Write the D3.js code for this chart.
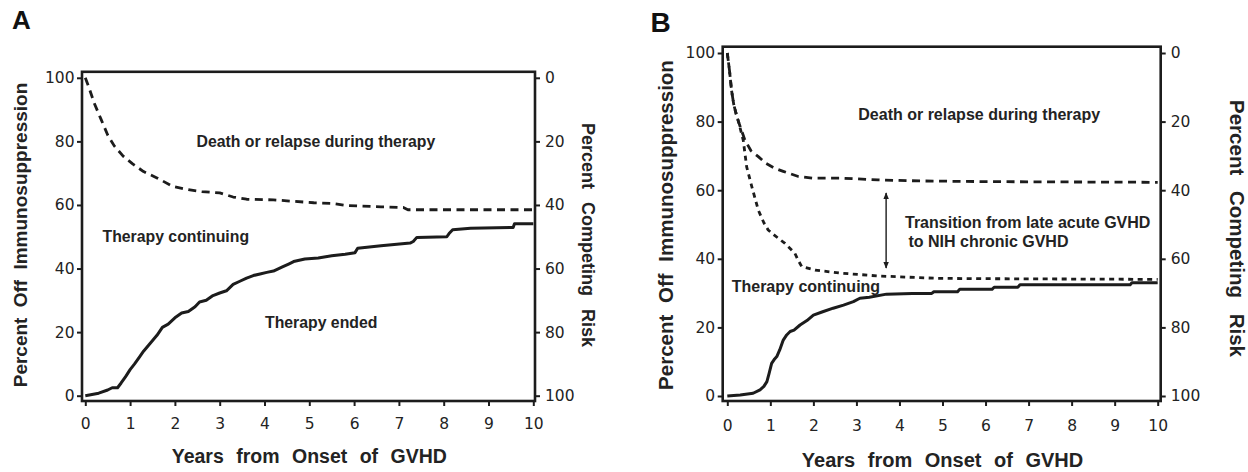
<!DOCTYPE html>
<html><head><meta charset="utf-8">
<script src="https://cdn.jsdelivr.net/npm/d3@7"></script>
<style>
html,body{margin:0;padding:0;background:#fff;}
svg{display:block;}
</style></head><body>
<svg id="chart" width="1248" height="472"></svg>
<script>
// ---------- shared axis content ----------
const yearTicks = [0,1,2,3,4,5,6,7,8,9,10];
const offTicks = [0,20,40,60,80,100];
const riskTicks = [0,20,40,60,80,100];
const xTitle = "Years from Onset of GVHD";
const leftTitle = "Percent Off Immunosuppression";
const rightTitle = "Percent Competing Risk";

// ---------- Panel A ----------
const aOffYears = [0,0.3,0.5,0.6,0.72,0.8,0.9,1.0,1.1,1.2,1.3,1.45,1.6,1.72,1.85,2.0,2.15,2.3,2.45,2.55,2.7,2.85,3.0,3.15,3.3,3.45,3.6,3.75,3.9,4.05,4.2,4.4,4.55,4.65,4.9,5.2,5.5,5.8,6.02,6.08,6.6,7.25,7.32,7.4,8.07,8.12,8.2,8.6,9.55,9.58,10];
const aOffPct   = [0,0.8,1.8,2.5,2.5,4,6,8.2,10,12,14,16.5,19,21.5,22.5,24.5,26,26.5,28,29.5,30,31.5,32.3,33,35,36,37,37.8,38.3,38.8,39.2,40.5,41.5,42.2,43,43.3,44,44.5,45,46.4,47.2,48,48.5,49.8,50,51,52.2,52.7,52.9,54.1,54.1];
const aDeathYears = [0,0.08,0.2,0.35,0.5,0.65,0.85,1.05,1.3,1.6,1.96,2.3,2.6,3.0,3.3,3.6,4.2,4.5,5.1,5.5,5.85,6.6,7.1,7.2,10];
const aDeathPct   = [100,97,92,87,82,78.5,75.3,73,70.5,68.5,65.8,64.8,64.2,63.8,62.5,61.8,61.6,61.3,60.7,60.5,59.8,59.4,59.2,58.5,58.5];
const aLabels = ["Death or relapse during therapy","Therapy continuing","Therapy ended"];

// ---------- Panel B ----------
const bOffYears = [0,0.3,0.6,0.76,0.85,0.92,0.97,1.03,1.1,1.15,1.22,1.3,1.38,1.46,1.55,1.69,1.85,2.0,2.2,2.46,2.7,2.93,3.08,3.3,3.7,4.3,4.75,4.8,5.35,5.4,6.15,6.2,6.75,6.8,9.36,9.4,10];
const bOffPct   = [0,0.3,0.8,1.8,2.8,4.2,6.5,9.5,10.8,11.5,13.5,16.3,17.8,18.8,19.2,20.7,22,23.6,24.5,25.6,26.5,27.5,28.5,28.8,29.7,29.9,29.9,30.4,30.4,31.1,31.1,31.7,31.7,32.4,32.4,33,33];
const bDeathYears = [0,0.05,0.1,0.15,0.2,0.26,0.3,0.41,0.55,0.72,0.9,1.1,1.3,1.65,2.0,2.66,3.5,4.47,6,10];
const bDeathPct   = [100,95,89,85,82.5,80,78.5,74.6,71.5,69.8,67.8,66.4,65.5,64,63.5,63.5,63,62.7,62.5,62.3];
const bTransYears = [0,0.05,0.1,0.15,0.2,0.26,0.37,0.45,0.57,0.72,0.85,0.95,1.1,1.34,1.5,1.57,1.65,1.73,2.04,2.66,3.5,4.87,6,10];
const bTransPct   = [100,95,89,85,82.5,80,74.6,66.8,61,54.2,50.5,48.4,46.8,44.5,42.5,41.6,39.5,37.7,36.7,35.8,35,34.3,34.2,34];
const bLabels = ["Death or relapse during therapy","Transition from late acute GVHD"," to NIH chronic GVHD","Therapy continuing"];
const bArrowYear = 3.69, bArrowFrom = 59.2, bArrowTo = 37.3;

// ---------- drawing ----------
const svg = d3.select("#chart");
const INK = "#1c1c1c", TXT = "#232323";
const SANS = "'Liberation Sans', Arial, Helvetica, sans-serif";
const TICKF = "'DejaVu Sans', 'Liberation Sans', sans-serif";

const defs = svg.append("defs");
defs.append("marker").attr("id","ah").attr("viewBox","0 0 10 10")
  .attr("refX",9).attr("refY",5).attr("markerWidth",7).attr("markerHeight",7)
  .attr("markerUnits","userSpaceOnUse").attr("orient","auto-start-reverse")
  .append("path").attr("d","M0,1 L10,5 L0,9 Z").attr("fill",INK);

function zip(xs, ys){ return xs.map((x,i)=>({t:x, v:ys[i]})); }

function drawPanel(p){
  const g = svg.append("g");
  const x = d3.scaleLinear().domain([0,10]).range(p.xr);
  const y = d3.scaleLinear().domain([0,100]).range(p.yr);
  const yR = d3.scaleLinear().domain([0,100]).range([p.yr[1], p.yr[0]]);
  const fl = p.frame[0], ft = p.frame[1], fr = p.frame[2], fb = p.frame[3];

  g.append("text").attr("x",p.letter[0]).attr("y",p.letter[1])
    .attr("font-family",SANS).attr("font-weight","bold").attr("font-size",p.letterSize)
    .attr("fill","#111").text(p.letterText);

  const line = d3.line().x(d=>x(d.t)).y(d=>y(d.v));
  p.curves.forEach(c=>{
    g.append("path").attr("d", line(zip(c.xs,c.ys))).attr("fill","none")
      .attr("stroke",INK).attr("stroke-width",c.w)
      .attr("stroke-dasharray",c.dash||null).attr("stroke-linejoin","round");
  });

  g.append("rect").attr("x",fl).attr("y",ft).attr("width",fr-fl).attr("height",fb-ft)
    .attr("fill","none").attr("stroke",INK).attr("stroke-width",2.6);

  const styleAxis = (sel)=>{
    sel.select(".domain").remove();
    sel.selectAll(".tick line").attr("stroke",INK).attr("stroke-width",2);
    sel.selectAll(".tick text").attr("font-family",TICKF).attr("font-size",p.tickSize)
      .attr("fill",TXT);
  };
  g.append("g").attr("transform",`translate(${fl},0)`)
    .call(d3.axisLeft(y).tickValues(offTicks).tickSize(5).tickPadding(2.5).tickFormat(d3.format("d")))
    .call(styleAxis);
  g.append("g").attr("transform",`translate(${fr},0)`)
    .call(d3.axisRight(yR).tickValues(riskTicks).tickSize(5).tickPadding(5).tickFormat(d3.format("d")))
    .call(styleAxis);
  g.append("g").attr("transform",`translate(0,${fb})`)
    .call(d3.axisBottom(x).tickValues(yearTicks).tickSize(5).tickPadding(p.xPad).tickFormat(d3.format("d")))
    .call(styleAxis);

  g.append("text").attr("x",(p.xr[0]+p.xr[1])/2).attr("y",p.xTitleY).attr("text-anchor","middle")
    .attr("font-family",SANS).attr("font-weight","bold").attr("font-size",p.xTitleSize)
    .attr("word-spacing",p.xTitleWS).attr("fill",TXT).text(xTitle);
  g.append("text").attr("transform",`translate(${p.lTitle[0]},${p.lTitle[1]}) rotate(-90)`)
    .attr("text-anchor","middle").attr("font-family",SANS).attr("font-weight","bold")
    .attr("font-size",p.lTitleSize).attr("word-spacing",p.lTitleWS).attr("fill",TXT).text(leftTitle);
  g.append("text").attr("transform",`translate(${p.rTitle[0]},${p.rTitle[1]}) rotate(90)`)
    .attr("text-anchor","middle").attr("font-family",SANS).attr("font-weight","bold")
    .attr("font-size",p.rTitleSize).attr("word-spacing",p.rTitleWS).attr("fill",TXT).text(rightTitle);

  p.notes.forEach(n=>{
    g.append("text").attr("x",n.x).attr("y",n.y).attr("font-family",SANS)
      .attr("font-weight","bold").attr("font-size",p.noteSize).attr("fill",TXT)
      .attr("xml:space","preserve").style("white-space","pre").text(n.text);
  });

  if (p.arrow){
    g.append("line").attr("x1",x(p.arrow.t)).attr("x2",x(p.arrow.t))
      .attr("y1",y(p.arrow.from)).attr("y2",y(p.arrow.to))
      .attr("stroke",INK).attr("stroke-width",1.4)
      .attr("marker-start","url(#ah)").attr("marker-end","url(#ah)");
  }
}

drawPanel({
  letterText:"A", letter:[12,28.5], letterSize:26,
  xr:[85.3,533.3], yr:[395.7,77.8], frame:[82,71.8,535,401],
  tickSize:15.5, xPad:12,
  xTitleY:462.7, xTitleSize:19.5, xTitleWS:7,
  lTitle:[27,235], lTitleSize:19, lTitleWS:5,
  rTitle:[582,235], rTitleSize:18, rTitleWS:8,
  noteSize:15.8,
  curves:[
    {xs:aDeathYears, ys:aDeathPct, w:2.8, dash:"8,5.5"},
    {xs:aOffYears, ys:aOffPct, w:3}
  ],
  notes:[
    {x:196.5, y:147, text:aLabels[0]},
    {x:102.5, y:241.5, text:aLabels[1]},
    {x:265, y:328.3, text:aLabels[2]}
  ]
});

drawPanel({
  letterText:"B", letter:[650.5,32], letterSize:28,
  xr:[727.3,1157.7], yr:[396,53], frame:[722.7,46.7,1160.7,401],
  tickSize:15.5, xPad:13.5,
  xTitleY:466.5, xTitleSize:20, xTitleWS:7,
  lTitle:[673,225], lTitleSize:20.5, lTitleWS:6,
  rTitle:[1229.5,228.5], rTitleSize:20.5, rTitleWS:10,
  noteSize:16,
  curves:[
    {xs:bDeathYears, ys:bDeathPct, w:2.8, dash:"8,5.5"},
    {xs:bTransYears, ys:bTransPct, w:2.8, dash:"5,4.5"},
    {xs:bOffYears, ys:bOffPct, w:3}
  ],
  notes:[
    {x:858.3, y:120, text:bLabels[0]},
    {x:905, y:228.3, text:bLabels[1]},
    {x:904, y:246.7, text:bLabels[2]},
    {x:731.7, y:291.7, text:bLabels[3]}
  ],
  arrow:{t:bArrowYear, from:bArrowFrom, to:bArrowTo}
});
</script>
</body></html>
